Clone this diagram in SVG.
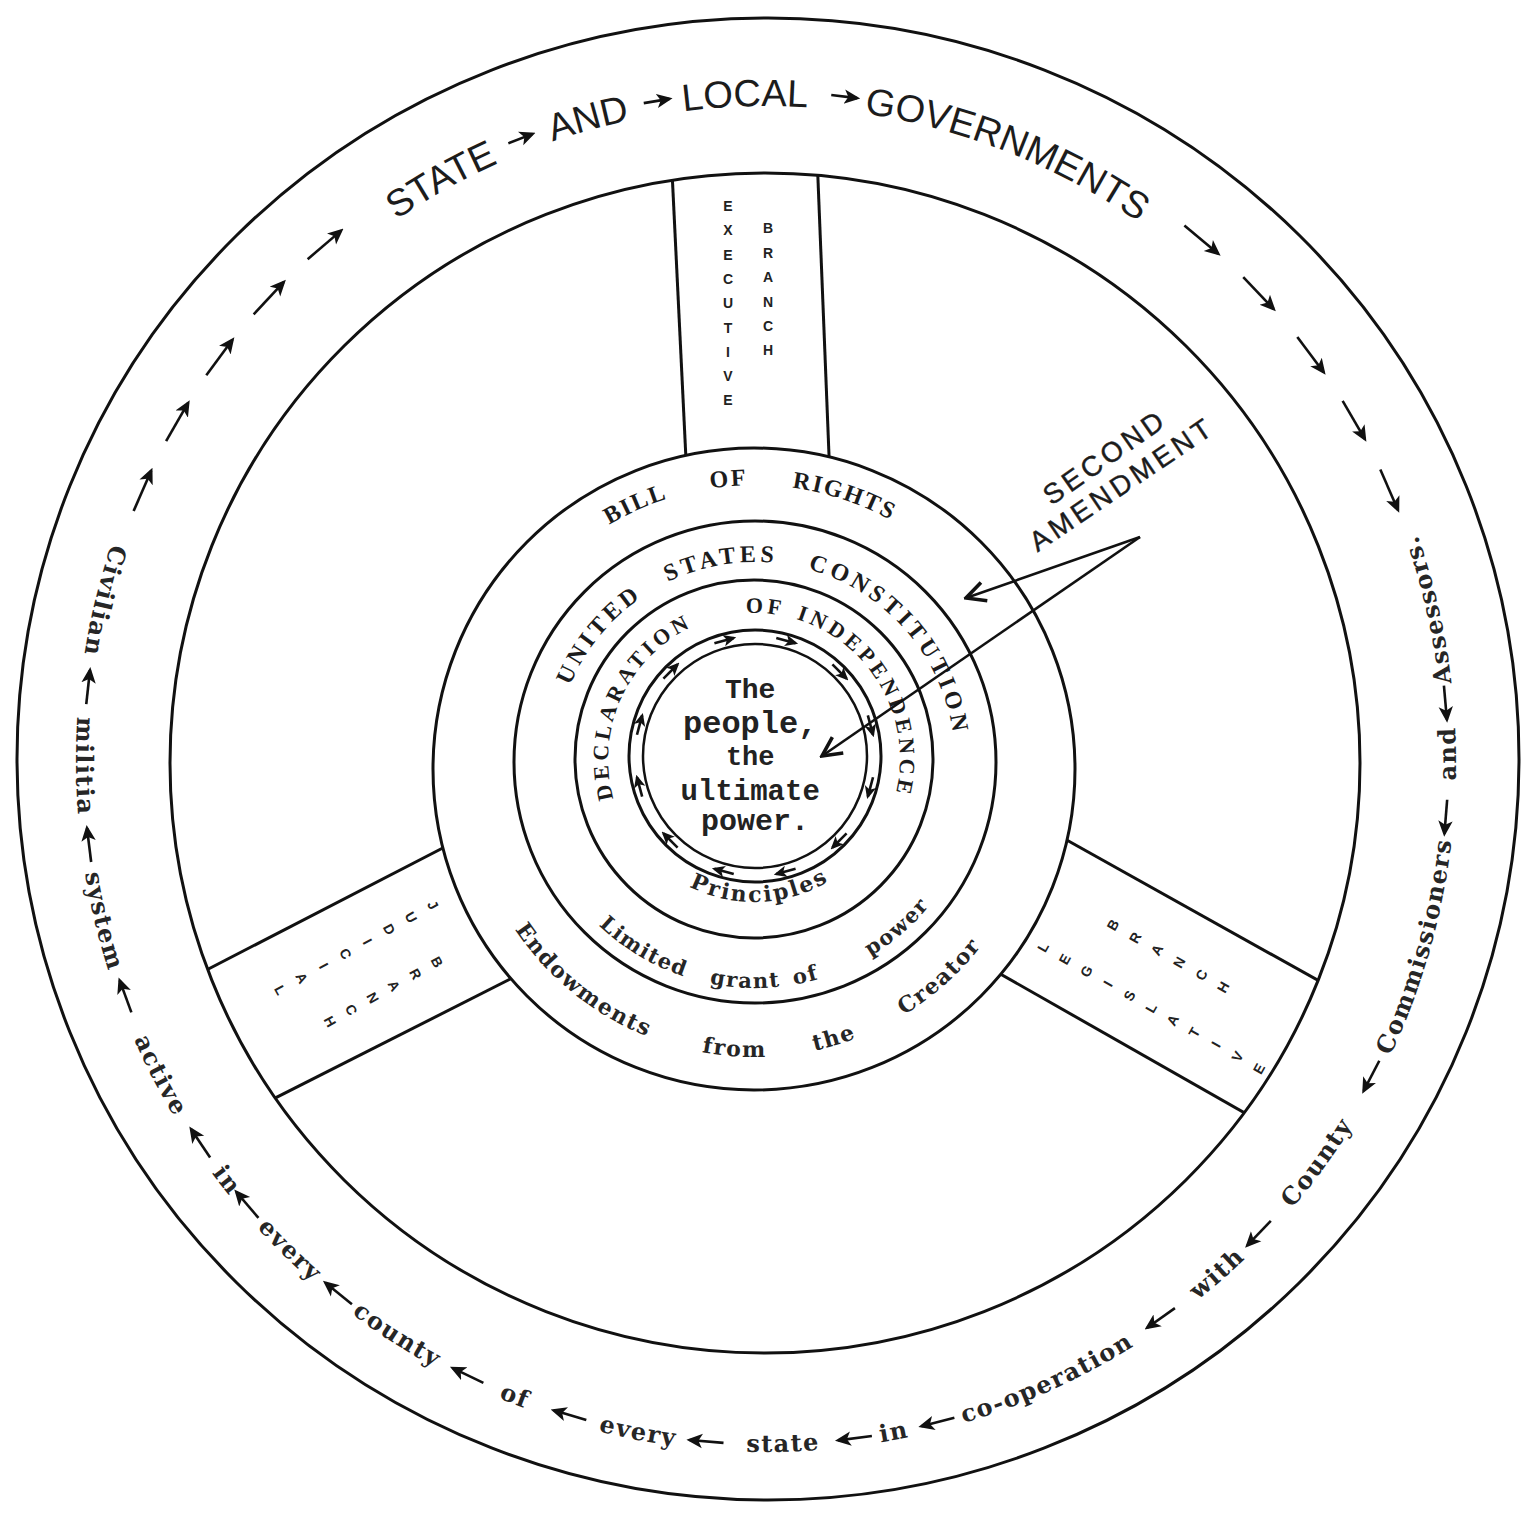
<svg xmlns="http://www.w3.org/2000/svg" width="1534" height="1513" viewBox="0 0 1534 1513">
<style>
.ln{fill:none;stroke:#111;stroke-width:3}
.hubc{fill:#fff;stroke:#111;stroke-width:3}
.ar{fill:none;stroke:#111;stroke-width:2.6}
.cap{font-family:"Liberation Serif","Times New Roman",serif;font-weight:bold;fill:#1c1c1c}
.slab{font-family:"DejaVu Serif",serif;font-weight:bold;fill:#262626}
.gov{font-family:"Liberation Sans",Arial,sans-serif;font-size:38px;fill:#1c1c1c}
.amd{font-family:"Liberation Sans",Arial,sans-serif;font-size:28px;letter-spacing:4px;fill:#1c1c1c;stroke:#1c1c1c;stroke-width:0.4}
.mono{font-family:"Liberation Mono","Courier New",monospace;font-weight:bold;fill:#222}
.sp{font-family:"Liberation Sans",Arial,sans-serif;font-weight:bold;font-size:14px;fill:#222}
.ring{font-size:24px;letter-spacing:1.5px}
</style>
<defs>
<marker id="ah" viewBox="0 0 10 10" refX="8" refY="5" markerWidth="16" markerHeight="16" markerUnits="userSpaceOnUse" orient="auto"><path d="M0,0.5 L10,5 L0,9.5 L2.5,5 z" fill="#111"/></marker>
<marker id="ahs" viewBox="0 0 10 10" refX="8" refY="5" markerWidth="13" markerHeight="13" markerUnits="userSpaceOnUse" orient="auto"><path d="M0,0.5 L10,5 L0,9.5 L2.5,5 z" fill="#111"/></marker>
<marker id="chev" viewBox="0 0 20 20" refX="18" refY="10" markerWidth="24" markerHeight="24" markerUnits="userSpaceOnUse" orient="auto"><path d="M2,2 L18,10 L2,18" fill="none" stroke="#111" stroke-width="3"/></marker>
<clipPath id="rimclip"><ellipse cx="765" cy="763" rx="595" ry="590"/></clipPath>
<path id="pTopOuter" d="M110,762 A656,656 0 0 1 1422,762 A656,656 0 0 1 110,762"/>
<path id="pBotOuter" d="M766,72 A690,690 0 0 0 766,1452 A690,690 0 0 0 766,72"/>
<path id="pBillTop" d="M470,769 A284,284 0 0 1 1038,769 A284,284 0 0 1 470,769"/>
<path id="pBillBot" d="M754,481 A288,288 0 0 0 754,1057 A288,288 0 0 0 754,481"/>
<path id="pConTop" d="M555,762 A200,200 0 0 1 955,762 A200,200 0 0 1 555,762"/>
<path id="pConBot" d="M755,536 A226,226 0 0 0 755,988 A226,226 0 0 0 755,536"/>
<path id="pDecTop" d="M754,905 A146,146 0 0 1 754,613 A146,146 0 0 1 754,905"/>
<path id="pDecBot" d="M754,616 A143,143 0 0 0 754,902 A143,143 0 0 0 754,616"/>
<path id="aRing" class="ar" d="M1448,745 V779" marker-end="url(#ah)"/>
<path id="aSide" class="ar" d="M1446,740 V784" marker-end="url(#ah)"/>
<path id="aTop" class="ar" d="M1436,749 V775" marker-end="url(#ah)"/>
<path id="aIn" class="ar" d="M874.5,746 V766" marker-end="url(#ahs)"/>
</defs>
<rect width="1534" height="1513" fill="#fff"/>

<g id="wheel-rim">
<ellipse class="ln" cx="768" cy="759" rx="751" ry="741"/>
<ellipse class="ln" cx="765" cy="763" rx="595" ry="590"/>
</g>

<g id="executive-branch">
<g class="ln" clip-path="url(#rimclip)">
<line x1="670" y1="130" x2="687" y2="480"/>
<line x1="816" y1="130" x2="830" y2="480"/>
</g>
<text class="sp" text-anchor="middle"><tspan x="728" y="211">E</tspan><tspan x="728" y="235">X</tspan><tspan x="728" y="260">E</tspan><tspan x="728" y="284">C</tspan><tspan x="728" y="308">U</tspan><tspan x="728" y="333">T</tspan><tspan x="728" y="357">I</tspan><tspan x="728" y="381">V</tspan><tspan x="728" y="405">E</tspan></text>
<text class="sp" text-anchor="middle"><tspan x="768" y="233">B</tspan><tspan x="768" y="258">R</tspan><tspan x="768" y="282">A</tspan><tspan x="768" y="307">N</tspan><tspan x="768" y="331">C</tspan><tspan x="768" y="355">H</tspan></text>
</g>

<g id="judicial-branch">
<g class="ln" clip-path="url(#rimclip)">
<line x1="466" y1="836" x2="160" y2="994"/>
<line x1="536" y1="966" x2="220" y2="1126"/>
</g>
<text class="sp" text-anchor="middle" transform="translate(433,905) rotate(60.9)"><tspan x="0" y="5">J</tspan><tspan x="0" y="30">U</tspan><tspan x="0" y="55">D</tspan><tspan x="0" y="80">I</tspan><tspan x="0" y="105">C</tspan><tspan x="0" y="130">I</tspan><tspan x="0" y="155">A</tspan><tspan x="0" y="180">L</tspan></text>
<text class="sp" text-anchor="middle" transform="translate(437,962) rotate(60.9)"><tspan x="0" y="5">B</tspan><tspan x="0" y="29.5">R</tspan><tspan x="0" y="54">A</tspan><tspan x="0" y="78.5">N</tspan><tspan x="0" y="103">C</tspan><tspan x="0" y="127.5">H</tspan></text>
</g>

<g id="legislative-branch">
<g class="ln" clip-path="url(#rimclip)">
<line x1="1047" y1="829" x2="1380" y2="1015"/>
<line x1="981" y1="963" x2="1310" y2="1150"/>
</g>
<text class="sp" text-anchor="middle" transform="translate(1113,925) rotate(-60.6)"><tspan x="0" y="5">B</tspan><tspan x="0" y="30.5">R</tspan><tspan x="0" y="55.5">A</tspan><tspan x="0" y="81">N</tspan><tspan x="0" y="106.5">C</tspan><tspan x="0" y="131.5">H</tspan></text>
<text class="sp" text-anchor="middle" transform="translate(1043,947) rotate(-60.6)"><tspan x="0" y="5">L</tspan><tspan x="0" y="29.8">E</tspan><tspan x="0" y="54.6">G</tspan><tspan x="0" y="79.4">I</tspan><tspan x="0" y="104.2">S</tspan><tspan x="0" y="129">L</tspan><tspan x="0" y="153.8">A</tspan><tspan x="0" y="178.6">T</tspan><tspan x="0" y="203.4">I</tspan><tspan x="0" y="228.2">V</tspan><tspan x="0" y="253">E</tspan></text>
</g>

<g id="state-and-local-governments">
<text class="gov"><textPath href="#pTopOuter" startOffset="16.9%" text-anchor="middle">STATE</textPath></text>
<text class="gov"><textPath href="#pTopOuter" startOffset="20.7%" text-anchor="middle">AND</textPath></text>
<text class="gov"><textPath href="#pTopOuter" startOffset="24.5%" text-anchor="middle">LOCAL</textPath></text>
<text class="gov"><textPath href="#pTopOuter" startOffset="31%" text-anchor="middle">GOVERNMENTS</textPath></text>
</g>

<g id="civilian-militia-system">
<text class="slab ring"><textPath href="#pBotOuter" startOffset="21.2%" text-anchor="middle">Civilian</textPath></text>
<text class="slab ring"><textPath href="#pBotOuter" startOffset="25.1%" text-anchor="middle">militia</textPath></text>
<text class="slab ring"><textPath href="#pBotOuter" startOffset="28.75%" text-anchor="middle">system</textPath></text>
<text class="slab ring"><textPath href="#pBotOuter" startOffset="32.6%" text-anchor="middle">active</textPath></text>
<text class="slab ring"><textPath href="#pBotOuter" startOffset="35.5%" text-anchor="middle">in</textPath></text>
<text class="slab ring"><textPath href="#pBotOuter" startOffset="37.7%" text-anchor="middle">every</textPath></text>
<text class="slab ring"><textPath href="#pBotOuter" startOffset="40.9%" text-anchor="middle">county</textPath></text>
<text class="slab ring"><textPath href="#pBotOuter" startOffset="44%" text-anchor="middle">of</textPath></text>
<text class="slab ring"><textPath href="#pBotOuter" startOffset="47%" text-anchor="middle">every</textPath></text>
<text class="slab ring"><textPath href="#pBotOuter" startOffset="50.4%" text-anchor="middle">state</textPath></text>
<text class="slab ring"><textPath href="#pBotOuter" startOffset="53%" text-anchor="middle">in</textPath></text>
<text class="slab ring"><textPath href="#pBotOuter" startOffset="56.8%" text-anchor="middle">co-operation</textPath></text>
<text class="slab ring"><textPath href="#pBotOuter" startOffset="61.5%" text-anchor="middle">with</textPath></text>
<text class="slab ring"><textPath href="#pBotOuter" startOffset="65%" text-anchor="middle">County</textPath></text>
<text class="slab ring"><textPath href="#pBotOuter" startOffset="70.6%" text-anchor="middle">Commissioners</textPath></text>
<text class="slab ring"><textPath href="#pBotOuter" startOffset="75.2%" text-anchor="middle">and</textPath></text>
<text class="slab ring"><textPath href="#pBotOuter" startOffset="78.6%" text-anchor="middle">Assessors.</textPath></text>
</g>

<g id="bill-of-rights">
<circle class="hubc" cx="754" cy="769" r="321"/>
<g class="cap" font-size="24" letter-spacing="2">
<text><textPath href="#pBillTop" startOffset="18.3%" text-anchor="middle">BILL</textPath></text>
<text><textPath href="#pBillTop" startOffset="23.6%" text-anchor="middle">OF</textPath></text>
<text><textPath href="#pBillTop" startOffset="30.1%" text-anchor="middle">RIGHTS</textPath></text>
</g>
<g class="slab" font-size="22" letter-spacing="1.6">
<text><textPath href="#pBillBot" startOffset="39.2%" text-anchor="middle">Endowments</textPath></text>
<text><textPath href="#pBillBot" startOffset="48.9%" text-anchor="middle">from</textPath></text>
<text><textPath href="#pBillBot" startOffset="54.6%" text-anchor="middle">the</textPath></text>
<text><textPath href="#pBillBot" startOffset="61.6%" text-anchor="middle">Creator</textPath></text>
</g>
</g>

<g id="united-states-constitution">
<circle class="hubc" cx="755" cy="762" r="241"/>
<g class="cap" font-size="24" letter-spacing="4">
<text><textPath href="#pConTop" startOffset="10.9%" text-anchor="middle">UNITED</textPath></text>
<text><textPath href="#pConTop" startOffset="22.3%" text-anchor="middle">STATES</textPath></text>
<text><textPath href="#pConTop" startOffset="38.6%" text-anchor="middle">CONSTITUTION</textPath></text>
</g>
<g class="slab" font-size="21" letter-spacing="1.5">
<text><textPath href="#pConBot" startOffset="41.4%" text-anchor="middle">Limited</textPath></text>
<text><textPath href="#pConBot" startOffset="49.3%" text-anchor="middle">grant</textPath></text>
<text><textPath href="#pConBot" startOffset="53.7%" text-anchor="middle">of</textPath></text>
<text><textPath href="#pConBot" startOffset="61.3%" text-anchor="middle">power</textPath></text>
</g>
</g>

<g id="declaration-of-independence">
<circle class="hubc" cx="754" cy="759" r="179"/>
<g class="cap" font-size="22" letter-spacing="4">
<text><textPath href="#pDecTop" startOffset="31.9%" text-anchor="middle">DECLARATION</textPath></text>
<text><textPath href="#pDecTop" startOffset="51.2%" text-anchor="middle">OF</textPath></text>
<text><textPath href="#pDecTop" startOffset="66.9%" text-anchor="middle">INDEPENDENCE</textPath></text>
</g>
<text class="slab" font-size="22" letter-spacing="2.3"><textPath href="#pDecBot" startOffset="50.7%" text-anchor="middle">Principles</textPath></text>
</g>

<g id="the-people">
<circle class="hubc" cx="755" cy="756" r="126" stroke-width="3.5"/>
<circle cx="755" cy="756" r="112" fill="none" stroke="#111" stroke-width="2.5"/>
<text class="mono" text-anchor="middle">
<tspan x="755" y="698" font-size="28">The</tspan>
<tspan x="755" y="733" font-size="32">people,</tspan>
<tspan x="755" y="765" font-size="27">the</tspan>
<tspan x="755" y="800" font-size="29">ultimate</tspan>
<tspan x="755" y="830" font-size="30">power.</tspan>
</text>
</g>

<g id="second-amendment">
<text class="amd" text-anchor="middle" dominant-baseline="central" transform="translate(1105,457) rotate(-35)">SECOND</text>
<text class="amd" text-anchor="middle" dominant-baseline="central" transform="translate(1122,484) rotate(-34)">AMENDMENT</text>
</g>

<g id="connectors">
<use href="#aSide" transform="rotate(203.5 766 762)"/>
<use href="#aSide" transform="rotate(210 766 762)"/>
<use href="#aSide" transform="rotate(216.5 766 762)"/>
<use href="#aSide" transform="rotate(223 766 762)"/>
<use href="#aSide" transform="rotate(229.5 766 762)"/>
<use href="#aTop" transform="rotate(248.5 766 762)"/>
<use href="#aTop" transform="rotate(260.6 766 762)"/>
<use href="#aTop" transform="rotate(276.7 766 762)"/>
<use href="#aSide" transform="rotate(309.8 766 762)"/>
<use href="#aSide" transform="rotate(316.4 766 762)"/>
<use href="#aSide" transform="rotate(323.2 766 762)"/>
<use href="#aSide" transform="rotate(329.8 766 762)"/>
<use href="#aSide" transform="rotate(336.4 766 762)"/>
<use href="#aRing" transform="rotate(-5 766 762)"/>
<use href="#aRing" transform="rotate(4.6 766 762)"/>
<use href="#aRing" transform="rotate(27.4 766 762)"/>
<use href="#aRing" transform="rotate(43.7 766 762)"/>
<use href="#aRing" transform="rotate(54.6 766 762)"/>
<use href="#aRing" transform="rotate(75.4 766 762)"/>
<use href="#aRing" transform="rotate(82.5 766 762)"/>
<use href="#aRing" transform="rotate(95 766 762)"/>
<use href="#aRing" transform="rotate(106.7 766 762)"/>
<use href="#aRing" transform="rotate(115.9 766 762)"/>
<use href="#aRing" transform="rotate(128.8 766 762)"/>
<use href="#aRing" transform="rotate(139.5 766 762)"/>
<use href="#aRing" transform="rotate(146 766 762)"/>
<use href="#aRing" transform="rotate(159.9 766 762)"/>
<use href="#aRing" transform="rotate(173 766 762)"/>
<use href="#aRing" transform="rotate(186.3 766 762)"/>
<use href="#aIn" transform="rotate(15 755 756)"/>
<use href="#aIn" transform="rotate(45 755 756)"/>
<use href="#aIn" transform="rotate(75 755 756)"/>
<use href="#aIn" transform="rotate(105 755 756)"/>
<use href="#aIn" transform="rotate(135 755 756)"/>
<use href="#aIn" transform="rotate(165 755 756)"/>
<use href="#aIn" transform="rotate(195 755 756)"/>
<use href="#aIn" transform="rotate(225 755 756)"/>
<use href="#aIn" transform="rotate(255 755 756)"/>
<use href="#aIn" transform="rotate(285 755 756)"/>
<use href="#aIn" transform="rotate(315 755 756)"/>
<use href="#aIn" transform="rotate(345 755 756)"/>
<line class="ar" x1="1140" y1="537" x2="966" y2="598" marker-end="url(#chev)"/>
<line class="ar" x1="1140" y1="537" x2="822" y2="756" marker-end="url(#chev)"/>
</g>
</svg>
